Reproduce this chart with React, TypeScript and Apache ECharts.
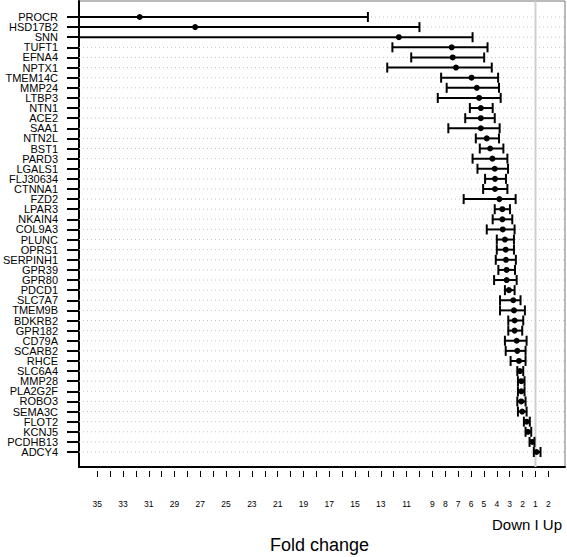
import React, { useEffect, useRef } from "react";
import * as echarts from "echarts";

// Genes, top to bottom
const genes = [
  "PROCR", "HSD17B2", "SNN", "TUFT1", "EFNA4", "NPTX1", "TMEM14C", "MMP24", "LTBP3", "NTN1",
  "ACE2", "SAA1", "NTN2L", "BST1", "PARD3", "LGALS1", "FLJ30634", "CTNNA1", "FZD2", "LPAR3",
  "NKAIN4", "COL9A3", "PLUNC", "OPRS1", "SERPINH1", "GPR39", "GPR80", "PDCD1", "SLC7A7", "TMEM9B",
  "BDKRB2", "GPR182", "CD79A", "SCARB2", "RHCE", "SLC6A4", "MMP28", "PLA2G2F", "ROBO3", "SEMA3C",
  "FLOT2", "KCNJ5", "PCDHB13", "ADCY4",
];

// Signed fold change (negative = down-regulated, positive = up-regulated)
const lowerCI = [
  -45, -45, -45, -12.1, -10.64, -12.5, -8.32, -7.89, -8.58, -6.09,
  -6.45, -7.76, -5.63, -5.32, -5.88, -5.5, -4.91, -5.06, -6.57, -4.16,
  -4.32, -4.78, -4.0, -4.0, -4.08, -3.88, -4.21, -3.37, -3.75, -3.75,
  -3.11, -3.11, -3.37, -3.31, -2.93, -2.41, -2.36, -2.36, -2.41, -2.36,
  -1.9, -1.77, -1.46, -1.13,
];
const foldChange = [
  -31.7, -27.4, -11.6, -7.5, -7.42, -7.17, -5.96, -5.55, -5.37, -5.24,
  -5.24, -5.24, -4.78, -4.52, -4.34, -4.16, -4.14, -4.14, -3.8, -3.57,
  -3.57, -3.54, -3.37, -3.31, -3.29, -3.24, -3.24, -3.06, -2.72, -2.67,
  -2.62, -2.62, -2.46, -2.41, -2.28, -2.21, -2.1, -2.1, -2.1, -2.03,
  -1.69, -1.59, -1.26, 1.08,
];
const upperCI = [
  -14.0, -10.0, -5.88, -4.72, -4.98, -4.39, -3.9, -3.83, -3.7, -4.32,
  -4.16, -3.78, -3.83, -3.49, -3.18, -3.13, -3.29, -3.18, -2.54, -2.98,
  -2.8, -2.62, -2.67, -2.67, -2.52, -2.59, -2.46, -2.62, -2.16, -1.82,
  -1.95, -2.03, -1.69, -1.77, -1.77, -1.95, -1.85, -1.85, -1.77, -1.69,
  -1.44, -1.33, -1.08, 1.39,
];

// Axis tick labels (fold change magnitudes, down side then up side)
const downTickLabels = [35, 33, 31, 29, 27, 25, 23, 21, 19, 17, 15, 13, 11, 9, 8, 7, 6, 5, 4, 3, 2, 1];
const upTickLabels = [2];
const downTicks = Array.from({ length: 35 }, (_, k) => 35 - k); // 35..1
const upTicks = [2];

// map signed fold change to axis position (1 at 0)
const pos = (fc: number) => (fc < 0 ? fc + 1 : fc - 1);

const FONT = "Liberation Sans, Arial, Helvetica, sans-serif";

export default function App() {
  const ref = useRef<HTMLDivElement>(null);
  useEffect(() => {
    if (!ref.current) return;
    const chart = echarts.init(ref.current, null, { renderer: "svg" });
    const xMin = -35.41;
    const xMax = 2.29;
    const tickVals = [...downTicks.map((v) => 1 - v), ...upTicks.map((v) => v - 1)];
    const labelVals = [...downTickLabels.map((v) => 1 - v), ...upTickLabels.map((v) => v - 1)];
    const fmt = (t: number) => {
      const r = Math.round(t);
      return String(r <= 0 ? 1 - r : r + 1);
    };
    const rows = genes.map((_, i) => i);
    const evenRows = rows.filter((i) => i % 2 === 0);
    const oddRows = rows.filter((i) => i % 2 === 1);
    const barData = genes.map((_, i) => [pos(lowerCI[i]), pos(foldChange[i]), pos(upperCI[i]), i]);

    const yBase = (vals: number[], showLine: boolean) => ({
      type: "value",
      position: "left",
      inverse: true,
      min: -1.58,
      max: 44.48,
      axisLine: { show: showLine, onZero: false, lineStyle: { color: "#000", width: 2 } },
      axisTick: {
        show: true,
        customValues: vals,
        length: 12,
        lineStyle: { color: "#000", width: 2 },
      },
      axisLabel: {
        customValues: vals,
        formatter: (v: number) => genes[Math.round(v)] ?? "",
        margin: 21,
        fontSize: 11,
        lineHeight: 10,
        color: "#000",
        fontFamily: FONT,
        showMinLabel: true,
        showMaxLabel: true,
        hideOverlap: false,
      },
      splitLine: { show: false },
    });

    chart.setOption({
      animation: false,
      grid: {
        left: 76,
        right: 2,
        top: 1,
        bottom: 90,
        show: true,
        borderColor: "#777",
        borderWidth: 1,
        backgroundColor: "transparent",
      },
      xAxis: [
        {
          type: "value",
          position: "bottom",
          min: xMin,
          max: xMax,
          axisLine: { show: true, onZero: false, lineStyle: { color: "#000", width: 2 } },
          axisTick: { show: false },
          axisLabel: { show: false },
          splitLine: { show: false },
        },
        {
          type: "value",
          position: "bottom",
          offset: 4,
          min: xMin,
          max: xMax,
          axisLine: { show: false, onZero: false },
          axisTick: {
            show: true,
            customValues: tickVals,
            length: 6,
            lineStyle: { color: "#000", width: 1 },
          },
          axisLabel: {
            customValues: labelVals,
            formatter: fmt,
            margin: 28,
            fontSize: 8.5,
            color: "#000",
            fontFamily: FONT,
            showMinLabel: true,
            showMaxLabel: true,
            hideOverlap: false,
          },
          splitLine: { show: false },
        },
      ],
      yAxis: [yBase(evenRows, true), yBase(oddRows, false)],
      graphic: [
        {
          type: "text",
          right: 5,
          top: 517,
          style: { text: "Down I Up", fill: "#000", font: `15px ${FONT}` },
        },
        {
          type: "text",
          left: 270,
          top: 536,
          style: { text: "Fold change", fill: "#000", font: `18px ${FONT}` },
        },
      ],
      series: [
        {
          type: "custom",
          xAxisIndex: 0,
          yAxisIndex: 0,
          silent: true,
          data: rows.map((i) => [i]),
          renderItem: (params: any, api: any) => {
            const cs = params.coordSys;
            const i = api.value(0);
            const y = api.coord([0, i])[1];
            const children: any[] = [
              {
                type: "line",
                shape: { x1: cs.x, y1: y, x2: cs.x + cs.width, y2: y },
                style: { stroke: "#c4c4c4", lineWidth: 1, lineDash: [1, 3] },
              },
            ];
            if (i === 0) {
              const x0 = api.coord([0, 0])[0];
              children.push({
                type: "line",
                shape: { x1: x0, y1: cs.y, x2: x0, y2: cs.y + cs.height },
                style: { stroke: "#cfcfcf", lineWidth: 2 },
              });
            }
            return { type: "group", children };
          },
        },
        {
          type: "custom",
          xAxisIndex: 0,
          yAxisIndex: 0,
          silent: true,
          data: barData,
          renderItem: (params: any, api: any) => {
            const cs = params.coordSys;
            const lo = api.coord([api.value(0), api.value(3)]);
            const pt = api.coord([api.value(1), api.value(3)]);
            const hi = api.coord([api.value(2), api.value(3)]);
            const y = pt[1];
            const left = cs.x;
            const right = cs.x + cs.width;
            const x1 = Math.max(lo[0], left);
            const x2 = Math.min(hi[0], right);
            const capH = 5;
            const st = { stroke: "#000", lineWidth: 2 };
            const children: any[] = [
              { type: "line", shape: { x1, y1: y, x2, y2: y }, style: st },
            ];
            if (lo[0] >= left) {
              children.push({ type: "line", shape: { x1: lo[0], y1: y - capH, x2: lo[0], y2: y + capH }, style: st });
            }
            if (hi[0] <= right) {
              children.push({ type: "line", shape: { x1: hi[0], y1: y - capH, x2: hi[0], y2: y + capH }, style: st });
            }
            children.push({ type: "circle", shape: { cx: pt[0], cy: y, r: 3 }, style: { fill: "#000" } });
            return { type: "group", children };
          },
        },
      ],
    });
    return () => chart.dispose();
  }, []);
  return <div ref={ref} style={{ width: 567, height: 557, position: "absolute", left: 0, top: 0 }} />;
}
